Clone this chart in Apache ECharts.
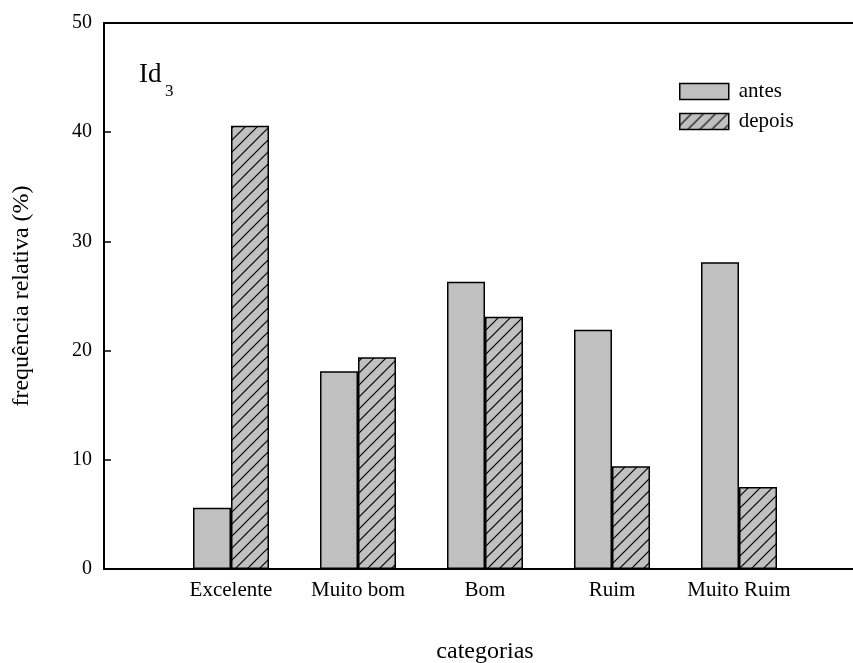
<!DOCTYPE html>
<html>
<head>
<meta charset="utf-8">
<script src="https://cdn.jsdelivr.net/npm/echarts@6/dist/echarts.min.js"></script>
<style>
  html, body { margin: 0; padding: 0; background: #fff; }
  #chart { width: 853px; height: 663px; }
</style>
</head>
<body>
<div id="chart"></div>
<script>
// Frequência relativa por categoria, antes e depois
const categories = ['Excelente', 'Muito bom', 'Bom', 'Ruim', 'Muito Ruim'];
const antes = [5.6, 18.1, 26.3, 21.9, 28.1];
const depois = [40.6, 19.4, 23.1, 9.4, 7.5];
const yTicks = [0, 10, 20, 30, 40, 50];

const FONT = "'Liberation Serif', 'Times New Roman', serif";
const GREY = '#c0c0c0';

// The category axis keeps an empty slot at each end, so the bars sit between the axis ends
const axisCats = [''].concat(categories, ['']);
const pad = arr => [null].concat(arr, [null]);

// Diagonal hatch tile for the "depois" bars
function hatchTile() {
  const s = 12;
  const c = document.createElement('canvas');
  c.width = s; c.height = s;
  const g = c.getContext('2d');
  g.fillStyle = GREY;
  g.fillRect(0, 0, s, s);
  g.strokeStyle = '#000';
  g.lineWidth = 1.2;
  g.beginPath();
  [0, s, 2 * s].forEach(k => {
    g.moveTo(-2, k + 2);
    g.lineTo(k + 2, -2);
  });
  g.stroke();
  return c;
}

const chart = echarts.init(document.getElementById('chart'), null, { renderer: 'canvas' });

chart.setOption({
  animation: false,
  textStyle: { fontFamily: FONT, color: '#000' },
  grid: {
    left: 104, top: 23, width: 762, height: 546,
    outerBoundsMode: 'none',
    containLabel: false,
    show: true, borderColor: '#000', borderWidth: 2, backgroundColor: 'transparent'
  },
  legend: {
    data: ['antes', 'depois'],
    orient: 'vertical',
    left: 674, top: 76,
    itemWidth: 49, itemHeight: 16, itemGap: 9,
    icon: 'rect',
    selectedMode: false,
    itemStyle: { borderWidth: 1.5, borderColor: '#000' },
    textStyle: { fontFamily: FONT, fontSize: 21, color: '#000', padding: [2, 0, 0, 5] }
  },
  xAxis: {
    type: 'category',
    data: axisCats,
    boundaryGap: false,
    name: 'categorias',
    nameLocation: 'middle',
    nameGap: 71,
    nameTextStyle: { fontFamily: FONT, fontSize: 24, color: '#000' },
    axisLine: { lineStyle: { color: '#000', width: 2 } },
    axisTick: { show: false },
    axisLabel: { interval: 0, margin: 11, fontFamily: FONT, fontSize: 21, color: '#000' },
    splitLine: { show: false }
  },
  yAxis: {
    type: 'value',
    min: yTicks[0], max: yTicks[yTicks.length - 1], interval: 10,
    name: 'frequência relativa (%)',
    nameLocation: 'middle',
    nameGap: 70,
    nameTextStyle: { fontFamily: FONT, fontSize: 24, color: '#000' },
    axisLine: { show: true, lineStyle: { color: '#000', width: 2 } },
    axisTick: { show: true, inside: true, length: 7, lineStyle: { color: '#000', width: 1.5 } },
    axisLabel: { margin: 12, fontFamily: FONT, fontSize: 20, color: '#000' },
    splitLine: { show: false }
  },
  graphic: [
    {
      type: 'text', left: 139, top: 61,
      style: { text: 'Id', font: '27px ' + FONT, fill: '#000' }
    },
    {
      type: 'text', left: 165, top: 83,
      style: { text: '3', font: '17px ' + FONT, fill: '#000' }
    }
  ],
  series: [
    {
      name: 'antes',
      type: 'bar',
      data: pad(antes),
      barWidth: 38,
      barGap: '0%',
      itemStyle: { color: GREY, borderColor: '#000', borderWidth: 1.5 }
    },
    {
      name: 'depois',
      type: 'bar',
      data: pad(depois),
      barWidth: 38,
      barGap: '0%',
      itemStyle: {
        color: { image: hatchTile(), repeat: 'repeat' },
        borderColor: '#000', borderWidth: 1.5
      }
    }
  ]
});
</script>
</body>
</html>
